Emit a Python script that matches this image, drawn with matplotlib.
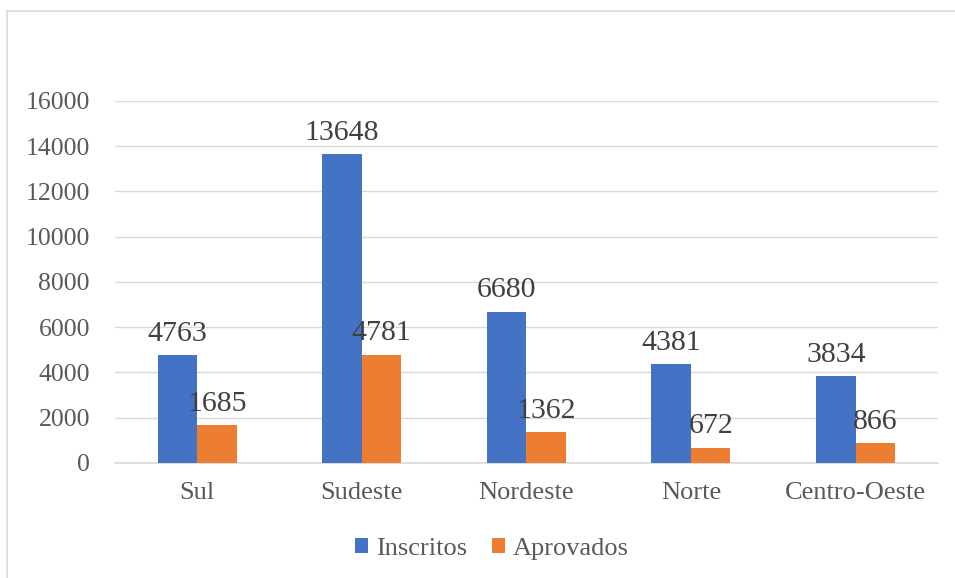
import numpy as np
import matplotlib.pyplot as plt
from matplotlib.lines import Line2D

regioes = ['Sul', 'Sudeste', 'Nordeste', 'Norte', 'Centro-Oeste']
inscritos = [4763, 13648, 6680, 4381, 3834]
aprovados = [1685, 4781, 1362, 672, 866]
yticks = [0, 2000, 4000, 6000, 8000, 10000, 12000, 14000, 16000]

plt.rcParams['font.family'] = ['Liberation Serif', 'DejaVu Serif']

fig = plt.figure(figsize=(9.55, 5.78), dpi=100)
ax = fig.add_axes([0.1204, 0.199, 0.8616, 0.6264])

x = np.arange(len(regioes))
w = 0.24
b1 = ax.bar(x - w / 2, inscritos, w, color='#4472C4', label='Inscritos', zorder=3)
b2 = ax.bar(x + w / 2, aprovados, w, color='#ED7D31', label='Aprovados', zorder=3)

for bars in (b1, b2):
    ax.bar_label(bars, padding=6, fontsize=21.5, color='#404040')

ax.set_xlim(-0.5, len(regioes) - 0.5)
ax.set_ylim(0, 16000)
ax.set_yticks(yticks)
ax.set_xticks(x)
ax.set_xticklabels(regioes)
ax.tick_params(axis='y', length=0, labelsize=18.5, colors='#595959', pad=18)
ax.tick_params(axis='x', length=0, labelsize=19, colors='#595959', pad=14)
ax.grid(axis='y', color='#D9D9D9', linewidth=1, zorder=0)
for s in ['top', 'right', 'left']:
    ax.spines[s].set_visible(False)
ax.spines['bottom'].set_color('#D9D9D9')
ax.spines['bottom'].set_linewidth(1.2)

leg = fig.legend(loc='center', bbox_to_anchor=(0.515, 0.05), ncol=2, frameon=False,
                 fontsize=19, handlelength=0.5, handleheight=0.5, handletextpad=0.3,
                 columnspacing=0.95)
for t in leg.get_texts():
    t.set_color('#595959')

# chart frame, only left and top edges fall inside the image
fig.add_artist(Line2D([7 / 955, 7 / 955], [0, 1 - 11 / 578], color='#D9D9D9', lw=1.2))
fig.add_artist(Line2D([7 / 955, 1], [1 - 11 / 578, 1 - 11 / 578], color='#D9D9D9', lw=1.2))

fig.savefig('out.png', dpi=100)
